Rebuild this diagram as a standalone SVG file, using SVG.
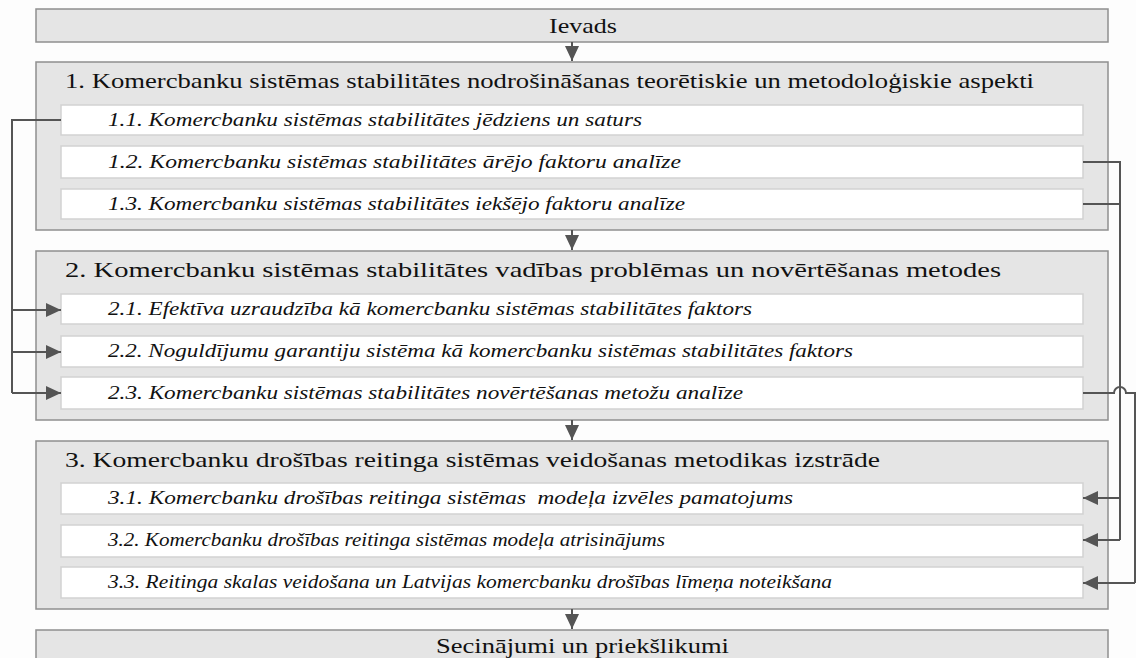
<svg xmlns="http://www.w3.org/2000/svg" width="1136" height="658" viewBox="0 0 1136 658">
<defs>
<style>
.sec{fill:#e5e5e5;stroke:#8f8f8f;stroke-width:1.5}
.sub{fill:#ffffff;stroke:#d2d2d2;stroke-width:1.5}
.ttl{font-family:"Liberation Serif","Times New Roman",serif;font-size:22px;fill:#111}
.it{font-family:"Liberation Serif","Times New Roman",serif;font-size:19px;font-style:italic;fill:#111}
.ln{fill:none;stroke:#555;stroke-width:2}
</style>
<marker id="ah" markerUnits="userSpaceOnUse" markerWidth="16" markerHeight="14" refX="15" refY="7" orient="auto">
<path d="M0,0 L15,7 L0,14 Z" fill="#555"/>
</marker>
</defs>
<rect width="1136" height="658" fill="#fdfdfd"/>

<g id="ievads">
<rect class="sec" x="36" y="9" width="1072" height="33"/>
<text class="ttl" x="549" y="33" textLength="68" lengthAdjust="spacingAndGlyphs">Ievads</text>
</g>

<g id="sec1">
<rect class="sec" x="36" y="62" width="1072" height="168"/>
<text class="ttl" x="65" y="88" textLength="969" lengthAdjust="spacingAndGlyphs">1. Komercbanku sistēmas stabilitātes nodrošināšanas teorētiskie un metodoloģiskie aspekti</text>
</g>
<g id="s11">
<rect class="sub" x="61" y="105" width="1022" height="30"/>
<text class="it" x="108" y="126" textLength="534" lengthAdjust="spacingAndGlyphs">1.1. Komercbanku sistēmas stabilitātes jēdziens un saturs</text>
</g>
<g id="s12">
<rect class="sub" x="61" y="146" width="1022" height="32"/>
<text class="it" x="108" y="168" textLength="573" lengthAdjust="spacingAndGlyphs">1.2. Komercbanku sistēmas stabilitātes ārējo faktoru analīze</text>
</g>
<g id="s13">
<rect class="sub" x="61" y="189" width="1022" height="30"/>
<text class="it" x="108" y="210" textLength="577" lengthAdjust="spacingAndGlyphs">1.3. Komercbanku sistēmas stabilitātes iekšējo faktoru analīze</text>
</g>

<g id="sec2">
<rect class="sec" x="36" y="251" width="1072" height="169"/>
<text class="ttl" x="65" y="277" textLength="936" lengthAdjust="spacingAndGlyphs">2. Komercbanku sistēmas stabilitātes vadības problēmas un novērtēšanas metodes</text>
</g>
<g id="s21">
<rect class="sub" x="61" y="294" width="1022" height="30"/>
<text class="it" x="108" y="315" textLength="644" lengthAdjust="spacingAndGlyphs">2.1. Efektīva uzraudzība kā komercbanku sistēmas stabilitātes faktors</text>
</g>
<g id="s22">
<rect class="sub" x="61" y="336" width="1022" height="31"/>
<text class="it" x="108" y="357" textLength="745" lengthAdjust="spacingAndGlyphs">2.2. Noguldījumu garantiju sistēma kā komercbanku sistēmas stabilitātes faktors</text>
</g>
<g id="s23">
<rect class="sub" x="61" y="377" width="1022" height="32"/>
<text class="it" x="108" y="399" textLength="635" lengthAdjust="spacingAndGlyphs">2.3. Komercbanku sistēmas stabilitātes novērtēšanas metožu analīze</text>
</g>

<g id="sec3">
<rect class="sec" x="36" y="441" width="1072" height="168"/>
<text class="ttl" x="65" y="467" textLength="815" lengthAdjust="spacingAndGlyphs">3. Komercbanku drošības reitinga sistēmas veidošanas metodikas izstrāde</text>
</g>
<g id="s31">
<rect class="sub" x="61" y="483" width="1022" height="31"/>
<text class="it" x="108" y="504" textLength="685" lengthAdjust="spacingAndGlyphs" xml:space="preserve">3.1. Komercbanku drošības reitinga sistēmas  modeļa izvēles pamatojums</text>
</g>
<g id="s32">
<rect class="sub" x="61" y="525" width="1022" height="32"/>
<text class="it" x="108" y="546" textLength="557" lengthAdjust="spacingAndGlyphs">3.2. Komercbanku drošības reitinga sistēmas modeļa atrisinājums</text>
</g>
<g id="s33">
<rect class="sub" x="61" y="567" width="1022" height="31"/>
<text class="it" x="108" y="588" textLength="724" lengthAdjust="spacingAndGlyphs">3.3. Reitinga skalas veidošana un Latvijas komercbanku drošības līmeņa noteikšana</text>
</g>

<g id="secinajumi">
<rect class="sec" x="36" y="630" width="1072" height="40"/>
<text class="ttl" x="436" y="653" textLength="293" lengthAdjust="spacingAndGlyphs">Secinājumi un priekšlikumi</text>
</g>

<g id="connectors">
<path class="ln" d="M572,42 V61" marker-end="url(#ah)"/>
<path class="ln" d="M572,230 V250" marker-end="url(#ah)"/>
<path class="ln" d="M572,420 V440" marker-end="url(#ah)"/>
<path class="ln" d="M572,609 V629" marker-end="url(#ah)"/>

<path class="ln" d="M61,120 H12 V393"/>
<path class="ln" d="M12,310 H61" marker-end="url(#ah)"/>
<path class="ln" d="M12,352 H61" marker-end="url(#ah)"/>
<path class="ln" d="M12,393 H61" marker-end="url(#ah)"/>

<path class="ln" d="M1083,162 H1120 V540"/>
<path class="ln" d="M1083,204 H1120"/>
<path class="ln" d="M1120,498 H1083" marker-end="url(#ah)"/>
<path class="ln" d="M1120,540 H1083" marker-end="url(#ah)"/>

<path class="ln" d="M1083,393 H1114 A6,6 0 0 1 1126,393 H1135 V583"/>
<path class="ln" d="M1135,583 H1083" marker-end="url(#ah)"/>
</g>
</svg>
